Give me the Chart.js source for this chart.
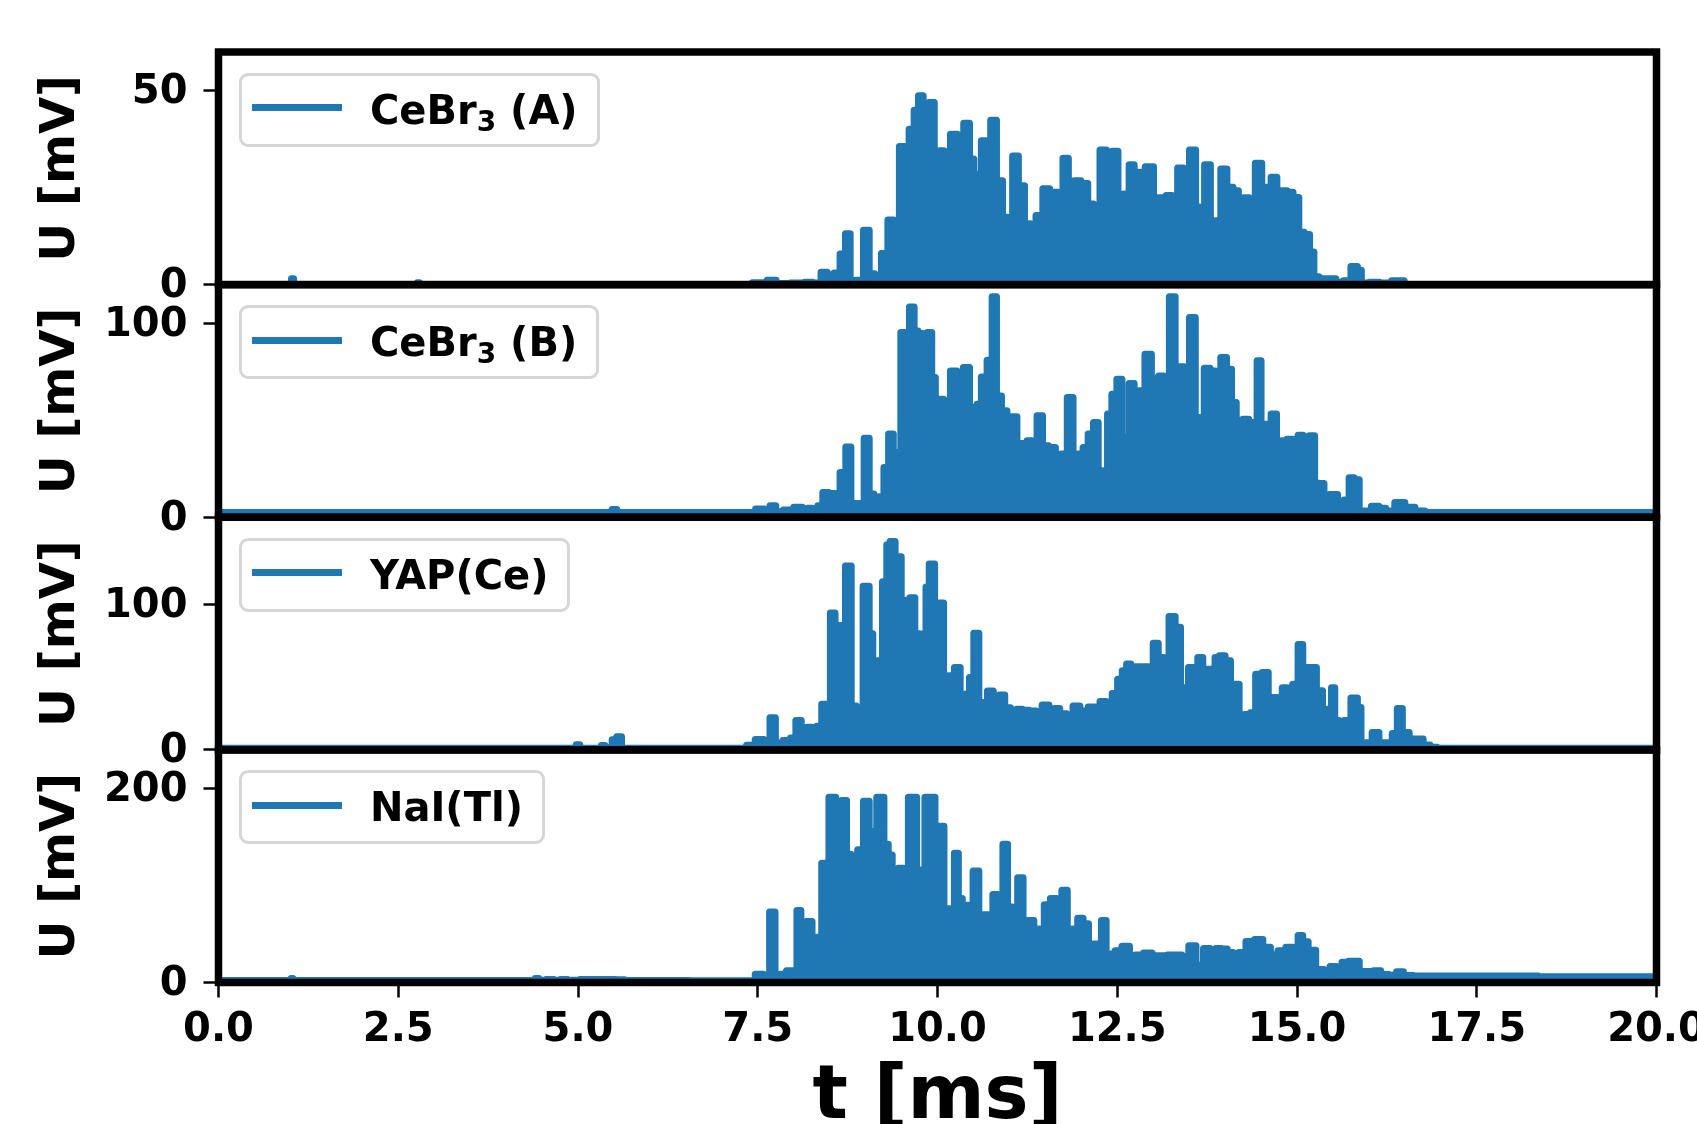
<!DOCTYPE html>
<html>
<head>
<meta charset="utf-8">
<title>Detector signals</title>
<script src="https://cdn.jsdelivr.net/npm/chart.js@4.4.1/dist/chart.umd.min.js"></script>
<style>
  html, body { margin: 0; padding: 0; background: #fff; overflow: hidden; }
  #wrap { position: relative; width: 1697px; height: 1124px; overflow: hidden; }
  #scope { position: absolute; left: 0; top: 0; }
  .legend {
    position: absolute; box-sizing: border-box; height: 74px;
    padding: 0 19px 0 10px; border: 3px solid #d6d6d6; border-radius: 9px;
    background: rgba(255,255,255,0.8); display: flex; align-items: center;
    font: bold 40px "DejaVu Sans"; color: #000; white-space: nowrap;
  }
  .legend .handle { display: inline-block; width: 90px; height: 7px; margin-right: 28px; position: relative; top: -2px; }
  .legend sub { font-size: 70%; vertical-align: -7px; line-height: 0; }
</style>
</head>
<body>
<div id="wrap">
  <canvas id="scope" width="1697" height="1160"></canvas>
  <div id="legends"></div>
</div>
<script>
const BLUE = '#1f77b4';

// time axis (ms)
const timeTicks = [0, 2.5, 5, 7.5, 10, 12.5, 15, 17.5, 20];

// one panel per detector, top to bottom
const detectorNames = ['CeBr3 (A)', 'CeBr3 (B)', 'YAP(Ce)', 'NaI(Tl)'];
const voltMax = [60, 120, 160, 240];
const voltTicks = [[0, 50], [0, 100], [0, 100], [0, 200]];

// signal traces as [t (ms), U (mV)]
const traceA = [
  [0, 0], [1.0, 0], [1.03, 1.5], [1.06, 0], [2.75, 0], [2.78, 0.5], [2.81, 0], [7.3, 0],
  [7.55, 0.5], [7.71, 1.1], [7.8, 0.3], [8.1, 0.4], [8.2, 0.6], [8.33, 0.4], [8.43, 3.2],
  [8.5, 2.0], [8.62, 3.0], [8.67, 7.9], [8.77, 13.1], [8.8, 1.0], [8.92, 1.1], [9.02, 14.0],
  [9.08, 2.8], [9.17, 2.4], [9.27, 8.0], [9.35, 16.7], [9.43, 13.0], [9.51, 35.6], [9.57, 30.0],
  [9.64, 40.1], [9.71, 45.0], [9.76, 48.7], [9.84, 45.2], [9.92, 47.0], [9.99, 15.2], [10.05, 34.5],
  [10.13, 34.1], [10.23, 38.8], [10.32, 28.5], [10.41, 41.6], [10.48, 32.4], [10.53, 25.1],
  [10.57, 28.5], [10.65, 37.1], [10.7, 36.7], [10.78, 42.4], [10.86, 26.8], [10.95, 17.4],
  [11.01, 11.0], [11.08, 33.2], [11.17, 25.5], [11.25, 15.7], [11.33, 13.5], [11.41, 17.8],
  [11.52, 24.7], [11.6, 15.7], [11.65, 23.8], [11.71, 13.5], [11.78, 32.6], [11.86, 13.5],
  [11.94, 26.8], [12.05, 26.1], [12.13, 20.8], [12.21, 19.5], [12.31, 34.7], [12.39, 25.1],
  [12.47, 34.4], [12.55, 22.9], [12.63, 23.4], [12.7, 30.9], [12.77, 24.2], [12.83, 29.0],
  [12.95, 30.4], [13.06, 22.4], [13.14, 22.4], [13.22, 23.0], [13.3, 21.5], [13.38, 30.1],
  [13.46, 20.1], [13.55, 34.7], [13.63, 20.0], [13.67, 4.1], [13.76, 30.9], [13.83, 11.4],
  [13.9, 16.5], [13.98, 29.8], [14.07, 25.1], [14.15, 24.2], [14.22, 21.7], [14.3, 22.4],
  [14.37, 21.2], [14.47, 31.3], [14.55, 24.2], [14.6, 25.1], [14.68, 27.7], [14.76, 23.8],
  [14.82, 24.2], [14.9, 23.8], [14.99, 22.5], [15.06, 13.5], [15.14, 12.9], [15.21, 8.4],
  [15.26, 2.0], [15.35, 1.5], [15.48, 1.5], [15.6, 0.6], [15.69, 1.0], [15.81, 4.7], [15.87, 3.7],
  [15.92, 0.4], [16.09, 0.6], [16.2, 0.4], [16.43, 1.0], [16.55, 0], [20, 0]
];

const traceB = [
  [0, 2.4], [5.45, 2.4], [5.5, 4.0], [5.58, 2.4], [7.39, 2.5], [7.55, 4.2], [7.63, 2.0],
  [7.71, 5.9], [7.79, 2.9], [7.92, 3.7], [8.08, 5.1], [8.16, 3.5], [8.22, 4.7], [8.29, 3.3],
  [8.38, 5.9], [8.43, 12.8], [8.54, 12.3], [8.61, 9.4], [8.68, 23.1], [8.77, 36.3], [8.82, 7.1],
  [8.94, 7.1], [9.02, 40.8], [9.08, 12.0], [9.15, 8.5], [9.23, 10.6], [9.28, 25.7], [9.36, 42.9],
  [9.41, 32.6], [9.47, 33.4], [9.51, 95.3], [9.57, 85.8], [9.65, 108.5], [9.7, 96.1], [9.76, 94.8],
  [9.83, 89.3], [9.89, 95.3], [9.95, 72.1], [9.99, 25.7], [10.04, 60.9], [10.13, 59.2],
  [10.23, 75.5], [10.31, 60.0], [10.41, 77.2], [10.48, 56.6], [10.53, 44.6], [10.57, 58.3],
  [10.65, 72.4], [10.73, 81.0], [10.79, 113.7], [10.85, 62.6], [10.93, 54.9], [11.0, 39.4],
  [11.07, 51.8], [11.14, 38.0], [11.21, 38.0], [11.28, 39.4], [11.34, 30.9], [11.43, 52.3],
  [11.49, 36.9], [11.6, 36.0], [11.68, 29.1], [11.76, 32.6], [11.85, 61.8], [11.92, 26.6],
  [11.99, 32.6], [12.06, 36.0], [12.13, 42.9], [12.21, 48.9], [12.26, 24.0], [12.34, 23.1],
  [12.39, 53.2], [12.46, 63.5], [12.53, 71.2], [12.6, 41.2], [12.63, 39.4], [12.7, 69.0],
  [12.77, 54.0], [12.83, 65.2], [12.94, 84.1], [13.01, 71.2], [13.04, 61.8], [13.11, 72.9],
  [13.18, 72.1], [13.27, 113.7], [13.34, 72.1], [13.4, 77.6], [13.46, 60.9], [13.55, 103.0],
  [13.62, 51.5], [13.67, 17.1], [13.75, 76.9], [13.83, 75.5], [13.9, 59.2], [13.98, 82.4],
  [14.06, 76.4], [14.12, 59.2], [14.19, 48.9], [14.3, 50.6], [14.36, 36.0], [14.42, 48.9],
  [14.47, 80.7], [14.53, 48.0], [14.6, 48.0], [14.68, 53.2], [14.75, 32.6], [14.82, 39.4],
  [14.9, 40.3], [14.98, 37.7], [15.05, 42.3], [15.12, 40.3], [15.22, 42.0], [15.27, 17.5],
  [15.35, 17.4], [15.4, 8.9], [15.51, 11.8], [15.62, 7.0], [15.69, 8.9], [15.76, 20.4],
  [15.83, 19.4], [15.9, 3.2], [15.97, 3.2], [16.1, 5.7], [16.18, 4.6], [16.29, 3.2], [16.43, 7.6],
  [16.57, 5.1], [16.71, 3.2], [16.85, 2.5], [20, 2.5]
];

const traceC = [
  [0, 1.2], [4.95, 1.2], [5.0, 3.6], [5.05, 1.2], [5.3, 1.2], [5.35, 3.0], [5.4, 1.2], [5.45, 1.5],
  [5.5, 7.0], [5.58, 9.0], [5.63, 1.2], [7.3, 1.2], [7.39, 3.1], [7.54, 7.1], [7.63, 2.5],
  [7.71, 22.1], [7.78, 4.8], [7.92, 6.4], [7.99, 8.2], [8.07, 20.2], [8.14, 14.0], [8.22, 15.6],
  [8.29, 9.4], [8.35, 16.3], [8.43, 31.3], [8.48, 30.0], [8.54, 94.1], [8.61, 22.1], [8.67, 85.6],
  [8.77, 126.4], [8.83, 30.1], [8.91, 27.2], [9.02, 112.6], [9.08, 79.8], [9.12, 52.1],
  [9.2, 61.3], [9.27, 115.6], [9.32, 141.0], [9.36, 143.3], [9.46, 132.9], [9.53, 102.9],
  [9.58, 100.6], [9.65, 104.7], [9.72, 79.8], [9.78, 62.5], [9.83, 79.8], [9.85, 112.1],
  [9.92, 127.8], [10.0, 93.6], [10.05, 101.0], [10.12, 27.9], [10.19, 51.0], [10.28, 56.7],
  [10.35, 38.2], [10.42, 38.2], [10.47, 49.8], [10.54, 80.2], [10.61, 24.4], [10.66, 32.5],
  [10.73, 40.5], [10.82, 30.1], [10.9, 37.8], [10.97, 29.0], [11.06, 24.4], [11.14, 27.9],
  [11.22, 27.2], [11.33, 26.7], [11.41, 23.2], [11.5, 30.9], [11.6, 27.2], [11.65, 28.5],
  [11.75, 24.8], [11.84, 22.5], [11.93, 30.1], [12.03, 26.7], [12.16, 29.5], [12.22, 24.4],
  [12.3, 33.2], [12.39, 23.2], [12.47, 38.7], [12.54, 48.6], [12.6, 54.4], [12.66, 59.0],
  [12.72, 46.3], [12.79, 57.2], [12.9, 57.2], [12.97, 51.0], [13.03, 73.4], [13.11, 63.6],
  [13.18, 57.2], [13.26, 91.8], [13.35, 84.4], [13.41, 34.8], [13.46, 42.8], [13.52, 56.7],
  [13.59, 49.8], [13.65, 63.6], [13.73, 55.5], [13.78, 55.5], [13.84, 30.1], [13.88, 63.6],
  [13.96, 64.8], [14.04, 61.3], [14.11, 42.8], [14.16, 45.2], [14.23, 18.6], [14.31, 24.4],
  [14.39, 25.5], [14.46, 52.1], [14.57, 53.2], [14.63, 36.0], [14.69, 36.0], [14.76, 17.5],
  [14.83, 42.8], [14.9, 30.1], [14.98, 45.2], [15.05, 72.4], [15.11, 56.7], [15.22, 56.7],
  [15.32, 40.7], [15.39, 27.9], [15.46, 19.0], [15.5, 42.8], [15.55, 20.2], [15.62, 18.2],
  [15.69, 20.2], [15.81, 35.6], [15.87, 29.2], [15.91, 4.9], [15.99, 4.9], [16.1, 12.0],
  [16.18, 4.9], [16.29, 4.9], [16.36, 11.3], [16.43, 28.4], [16.5, 12.0], [16.62, 7.4],
  [16.71, 7.4], [16.8, 3.3], [16.9, 1.8], [17.0, 1.2], [20, 1.2]
];

const traceD = [
  [0, 2.0], [1.0, 2.0], [1.02, 4.0], [1.05, 2.0], [4.38, 2.0], [4.43, 4.0], [4.48, 2.2], [4.63, 3.0],
  [4.7, 2.2], [4.81, 3.0], [4.9, 2.2], [5.15, 3.0], [5.3, 3.2], [5.45, 3.0], [5.6, 2.8], [5.7, 2.0],
  [7.39, 1.8], [7.54, 8.5], [7.62, 2.6], [7.71, 72.7], [7.77, 2.6], [7.85, 8.5], [7.95, 12.0],
  [8.02, 12.0], [8.07, 74.4], [8.13, 24.1], [8.22, 63.0], [8.29, 25.9], [8.35, 46.7], [8.43, 123.0],
  [8.48, 97.0], [8.5, 191.0], [8.57, 191.0], [8.6, 97.0], [8.64, 157.7], [8.7, 187.8], [8.77, 132.3],
  [8.82, 35.2], [8.86, 83.1], [8.92, 136.9], [9.02, 187.1], [9.08, 69.2], [9.15, 156.0],
  [9.16, 191.0], [9.23, 191.0], [9.28, 142.7], [9.35, 131.6], [9.39, 71.0], [9.42, 35.2],
  [9.49, 117.8], [9.57, 55.3], [9.62, 191.0], [9.69, 191.0], [9.73, 76.2], [9.81, 116.0],
  [9.84, 191.0], [9.94, 191.0], [9.99, 116.0], [10.05, 161.1], [10.13, 76.2], [10.21, 76.2],
  [10.26, 133.4], [10.32, 86.6], [10.37, 34.5], [10.45, 79.6], [10.54, 115.0], [10.61, 38.0],
  [10.68, 69.9], [10.73, 58.8], [10.81, 90.7], [10.88, 69.2], [10.94, 142.7], [11.01, 77.9],
  [11.07, 74.4], [11.16, 108.1], [11.22, 64.0], [11.3, 64.0], [11.38, 55.3], [11.45, 15.4],
  [11.52, 80.3], [11.62, 86.6], [11.69, 76.8], [11.77, 95.2], [11.84, 55.3], [11.87, 10.3],
  [11.92, 55.3], [11.98, 66.4], [12.07, 60.5], [12.13, 36.3], [12.21, 39.7], [12.25, 36.3],
  [12.31, 64.0], [12.38, 29.3], [12.44, 18.9], [12.5, 32.8], [12.63, 37.3], [12.71, 27.6],
  [12.79, 28.3], [12.94, 30.4], [13.03, 27.6], [13.14, 27.6], [13.25, 28.3], [13.35, 28.3],
  [13.45, 16.5], [13.54, 38.0], [13.65, 17.9], [13.75, 35.2], [13.83, 32.8], [13.91, 35.2],
  [13.99, 34.5], [14.07, 31.0], [14.15, 17.9], [14.23, 31.0], [14.35, 42.2], [14.47, 44.3],
  [14.58, 36.3], [14.68, 28.3], [14.79, 32.8], [14.9, 36.3], [14.98, 25.9], [15.05, 48.4],
  [15.11, 42.1], [15.2, 33.3], [15.25, 33.3], [15.27, 13.3], [15.34, 13.3], [15.41, 9.4],
  [15.51, 16.4], [15.58, 10.2], [15.67, 21.0], [15.76, 21.8], [15.83, 21.8], [15.9, 11.3],
  [16.02, 11.3], [16.11, 12.1], [16.22, 8.3], [16.34, 7.5], [16.43, 11.0], [16.53, 7.1],
  [16.71, 6.7], [20, 6.0]
];

const traces = [traceA, traceB, traceC, traceD];
const panelIds = ['yA', 'yB', 'yC', 'yD'];

Chart.defaults.font.family = '"DejaVu Sans", sans-serif';
Chart.defaults.color = '#000';

const tickFont = { size: 40, weight: 'bold' };

// pulses rise and fall steeply, so hold each sample over its own slot
const datasets = traces.map((trace, i) => ({
  label: detectorNames[i],
  data: trace.map(([t, u]) => ({ x: t, y: u })),
  xAxisID: 'x',
  yAxisID: panelIds[i],
  borderColor: BLUE,
  backgroundColor: BLUE,
  borderWidth: 7,
  borderJoinStyle: 'round',
  borderCapStyle: 'round',
  pointRadius: 0,
  stepped: 'middle',
  fill: 'origin'
}));

const scales = {
  x: {
    type: 'linear',
    position: 'bottom',
    min: 0,
    max: 20,
    afterBuildTicks: s => { s.ticks = timeTicks.map(v => ({ value: v })); },
    afterFit: s => { s.height = 177.5; s.paddingLeft = 0; s.paddingRight = 0; },
    ticks: {
      font: tickFont, color: '#000', padding: 9, maxRotation: 0, autoSkip: false,
      callback: v => Number(v).toFixed(1)
    },
    grid: { display: true, drawOnChartArea: false, drawTicks: true, tickLength: 15, tickWidth: 2.5, tickColor: '#000' },
    border: { display: false },
    title: { display: true, text: 't [ms]', font: { size: 74, weight: 'bold' }, color: '#000', padding: { top: 0, bottom: 17 } }
  }
};

panelIds.forEach((id, i) => {
  scales[id] = {
    type: 'linear',
    position: 'left',
    stack: 'panels',
    stackWeight: 1,
    weight: panelIds.length - i,
    min: 0,
    max: voltMax[i],
    afterBuildTicks: s => { s.ticks = voltTicks[i].map(v => ({ value: v })); },
    afterFit: s => { s.width = 218.5; s.paddingTop = 0; s.paddingBottom = 0; },
    ticks: { font: tickFont, color: '#000', padding: 16, labelOffset: 2 },
    grid: { display: true, drawOnChartArea: false, drawTicks: true, tickLength: 15, tickWidth: 2.5, tickColor: '#000' },
    border: { display: false },
    title: { display: true, text: 'U [mV]', font: { size: 48, weight: 'bold' }, color: '#000', padding: { top: 33, bottom: 0 } }
  };
});

// heavy black box round every panel
const panelFrame = {
  id: 'panelFrame',
  afterDatasetsDraw(chart) {
    const { ctx, chartArea } = chart;
    ctx.save();
    ctx.lineWidth = 7.5;
    ctx.strokeStyle = '#000';
    panelIds.forEach(id => {
      const s = chart.scales[id];
      ctx.strokeRect(chartArea.left, s.top, chartArea.right - chartArea.left, s.bottom - s.top);
    });
    ctx.restore();
  }
};

const chart = new Chart(document.getElementById('scope'), {
  type: 'line',
  data: { datasets },
  options: {
    responsive: false,
    animation: false,
    devicePixelRatio: 1,
    layout: { padding: { top: 52, left: 0, right: 40.5, bottom: 0 } },
    scales,
    plugins: { legend: { display: false }, tooltip: { enabled: false } }
  },
  plugins: [panelFrame]
});

// legend box in the upper left corner of each panel
const legendHolder = document.getElementById('legends');
chart.data.datasets.forEach(ds => {
  const s = chart.scales[ds.yAxisID];
  const item = document.createElement('div');
  item.className = 'legend';
  item.style.left = (chart.chartArea.left + 20.5) + 'px';
  item.style.top = (s.top + 20.5) + 'px';
  const name = ds.label.replace('Br3', 'Br<sub>3</sub>');
  item.innerHTML = `<span class="handle" style="background:${ds.borderColor}"></span><span>${name}</span>`;
  legendHolder.appendChild(item);
});
</script>
</body>
</html>
